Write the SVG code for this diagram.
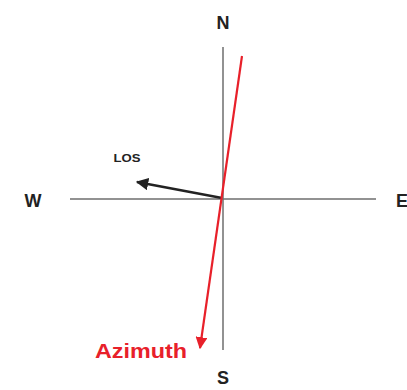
<svg xmlns="http://www.w3.org/2000/svg" width="407" height="390" viewBox="0 0 407 390">
<style>
.axis{stroke:#6e6e6e;stroke-width:1.5;fill:none}
.lbl{font-family:"Liberation Sans",Arial,sans-serif;font-weight:bold;fill:#222;text-anchor:middle}
</style>
<defs>
<marker id="ab" viewBox="0 0 10 10" refX="9" refY="5" markerWidth="5" markerHeight="5" orient="auto"><path d="M0,0 L10,5 L0,10 z" fill="#222"/></marker>
<marker id="ar" viewBox="0 0 10 10" refX="9" refY="5" markerWidth="5.5" markerHeight="5.5" orient="auto"><path d="M0,0 L10,5 L0,10 z" fill="#e8202a"/></marker>
</defs>
<rect width="407" height="390" fill="#fff"/>
<g id="connectors">
<line class="axis" x1="223" y1="47" x2="223" y2="350"/>
<line class="axis" x1="70" y1="199" x2="376" y2="199"/>
<line x1="222" y1="198" x2="137" y2="182" stroke="#222" stroke-width="2.5" marker-end="url(#ab)"/>
<line x1="242" y1="56" x2="200" y2="348" stroke="#e8202a" stroke-width="2.2" marker-end="url(#ar)"/>
</g>
<g id="N"><text class="lbl" x="223" y="29" font-size="18">N</text></g>
<g id="S"><text class="lbl" x="223" y="384" font-size="18">S</text></g>
<g id="W"><text class="lbl" x="33" y="207" font-size="18">W</text></g>
<g id="E"><text class="lbl" x="402" y="207" font-size="18" text-anchor="start">E</text></g>
<g id="LOS"><text class="lbl" x="127" y="162" font-size="11" textLength="27" lengthAdjust="spacingAndGlyphs">LOS</text></g>
<g id="Azimuth"><text class="lbl" x="141" y="358" font-size="20" textLength="92" lengthAdjust="spacingAndGlyphs" style="fill:#e8202a">Azimuth</text></g>
</svg>
